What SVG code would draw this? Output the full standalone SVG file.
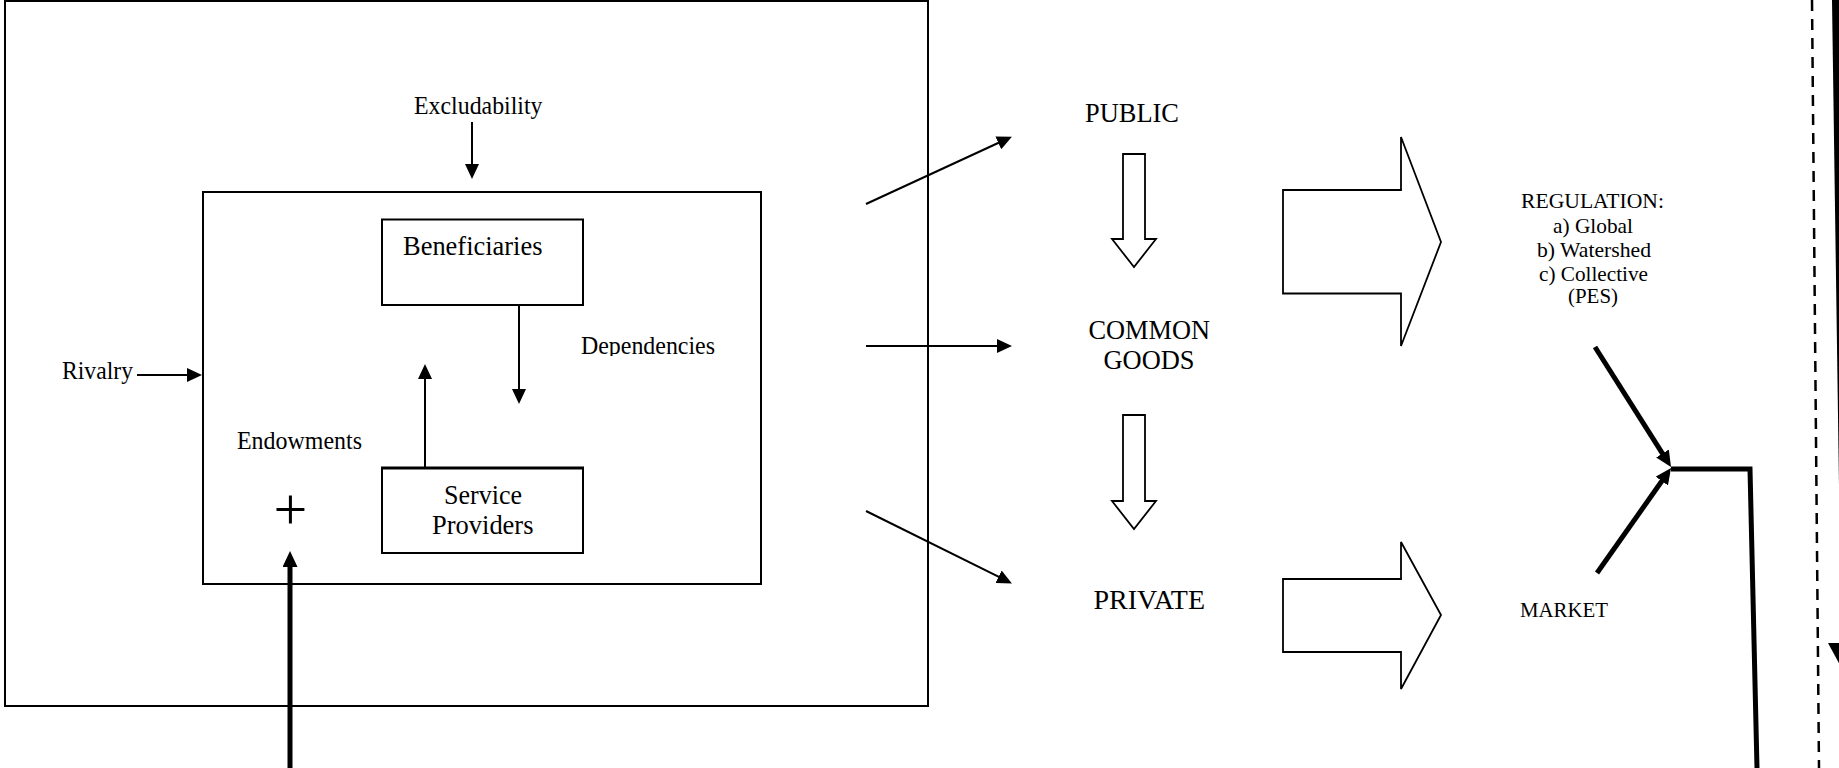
<svg xmlns="http://www.w3.org/2000/svg" width="1839" height="768" viewBox="0 0 1839 768">
  <style>
    .box { fill: none; stroke: #000; stroke-width: 2; }
    .block { fill: #fff; stroke: #000; stroke-width: 1.8; stroke-linejoin: miter; }
    .t { font-family: "Liberation Serif", "Times New Roman", serif; fill: #000; }
    .s25 { font-size: 25px; }
    .s28 { font-size: 28px; }
    .s27 { font-size: 27px; }
    .s22 { font-size: 22px; }
    .thin { fill: none; stroke: #000; stroke-width: 2; marker-end: url(#head); }
    .bold { fill: none; stroke: #000; stroke-width: 5; marker-end: url(#headBold); }
  </style>
  <defs>
    <marker id="head" markerUnits="userSpaceOnUse" markerWidth="15" markerHeight="14" refX="1" refY="7" orient="auto">
      <path d="M0,0 L15,7 L0,14 z" fill="#000"/>
    </marker>
    <marker id="headBold" markerUnits="userSpaceOnUse" markerWidth="16" markerHeight="15" refX="1" refY="7.5" orient="auto">
      <path d="M0,0 L16,7.5 L0,15 z" fill="#000"/>
    </marker>
    <clipPath id="depClip">
      <rect x="570" y="320" width="160" height="36"/>
    </clipPath>
  </defs>

  <rect width="1839" height="768" fill="#fff"/>

  <!-- outer frame around the service system -->
  <g id="outer-frame">
    <rect class="box" x="5" y="1" width="923" height="705"/>
  </g>

  <!-- inner system box -->
  <g id="system-box">
    <rect class="box" x="203" y="192" width="558" height="392"/>
  </g>

  <g id="beneficiaries">
    <rect class="box" x="382" y="219.5" width="201" height="85.5"/>
    <text class="t s28" x="403" y="255" textLength="139.5" lengthAdjust="spacingAndGlyphs">Beneficiaries</text>
  </g>

  <g id="service-providers">
    <rect class="box" x="382" y="468" width="201" height="85"/>
    <line x1="381" y1="468" x2="584" y2="468" stroke="#000" stroke-width="3"/>
    <text class="t s28" x="444" y="503.5" textLength="78" lengthAdjust="spacingAndGlyphs">Service</text>
    <text class="t s28" x="432" y="534" textLength="101.5" lengthAdjust="spacingAndGlyphs">Providers</text>
  </g>

  <g id="excludability">
    <text class="t s25" x="414" y="114" textLength="128.5" lengthAdjust="spacingAndGlyphs">Excludability</text>
  </g>
  <g id="rivalry">
    <text class="t s25" x="62" y="379" textLength="71" lengthAdjust="spacingAndGlyphs">Rivalry</text>
  </g>
  <g id="dependencies">
    <text class="t s25" x="581" y="354" textLength="134" lengthAdjust="spacingAndGlyphs" clip-path="url(#depClip)">Dependencies</text>
  </g>
  <g id="endowments">
    <text class="t s25" x="237" y="448.5" textLength="125" lengthAdjust="spacingAndGlyphs">Endowments</text>
    <text class="t" x="290.5" y="529" font-size="60" text-anchor="middle">+</text>
  </g>

  <g id="public">
    <text class="t s27" x="1085" y="121.5" textLength="94" lengthAdjust="spacingAndGlyphs">PUBLIC</text>
  </g>
  <g id="common-goods">
    <text class="t s27" x="1088.5" y="339" textLength="121.5" lengthAdjust="spacingAndGlyphs">COMMON</text>
    <text class="t s27" x="1103.5" y="369" textLength="91" lengthAdjust="spacingAndGlyphs">GOODS</text>
  </g>
  <g id="private">
    <text class="t s27" x="1093.5" y="608.5" textLength="111.5" lengthAdjust="spacingAndGlyphs">PRIVATE</text>
  </g>

  <g id="regulation">
    <text class="t s22" x="1521" y="208" textLength="143" lengthAdjust="spacingAndGlyphs">REGULATION:</text>
    <text class="t s22" x="1553" y="232.5" textLength="80" lengthAdjust="spacingAndGlyphs">a) Global</text>
    <text class="t s22" x="1537" y="256.5" textLength="114" lengthAdjust="spacingAndGlyphs">b) Watershed</text>
    <text class="t s22" x="1539" y="280.5" textLength="109" lengthAdjust="spacingAndGlyphs">c) Collective</text>
    <text class="t s22" x="1568" y="303" textLength="50" lengthAdjust="spacingAndGlyphs">(PES)</text>
  </g>
  <g id="market">
    <text class="t s22" x="1520" y="617" textLength="88" lengthAdjust="spacingAndGlyphs">MARKET</text>
  </g>

  <g id="connectors">
    <!-- attribute arrows into the system box -->
    <path class="thin" d="M472,122 L472,165"/>
    <path class="thin" d="M137,375 L188,375"/>
    <!-- dependencies between beneficiaries and providers -->
    <path class="thin" d="M519,305 L519,390"/>
    <path class="thin" d="M425,468 L425,378"/>
    <!-- endowments input -->
    <path class="bold" d="M290,768 L290,566"/>
    <!-- outputs to goods types -->
    <path class="thin" d="M866,204 L999.2,142.5"/>
    <path class="thin" d="M866,346 L998,346"/>
    <path class="thin" d="M866,511 L999.4,577.2"/>

    <!-- hollow down arrows between goods types -->
    <polygon class="block" points="1123,154 1145,154 1145,239 1156,239 1134,267 1112,239 1123,239"/>
    <polygon class="block" points="1123,415 1145,415 1145,501 1156,501 1134,529 1112,501 1123,501"/>

    <!-- block arrows to governance modes -->
    <polygon class="block" points="1283,190 1401,190 1401,137 1441,242 1401,346 1401,293.5 1283,293.5"/>
    <polygon class="block" points="1283,579 1401,579 1401,542 1441,615 1401,689 1401,652 1283,652"/>

    <!-- regulation and market converge -->
    <path class="bold" d="M1595,347 L1663,454.3"/>
    <path class="bold" d="M1597,573 L1662.4,480.3"/>
    <path d="M1671,469 L1750,469 L1757,768" fill="none" stroke="#000" stroke-width="5" stroke-linejoin="miter"/>

    <!-- right margin: dashed boundary and feedback line -->
    <path d="M1812,0 L1819,768" fill="none" stroke="#000" stroke-width="2.5" stroke-dasharray="11 8"/>
    <path d="M1836,0 L1843,485" fill="none" stroke="#000" stroke-width="8"/>
    <polygon points="1828,643 1864,643 1846,676" fill="#000"/>
  </g>
</svg>
